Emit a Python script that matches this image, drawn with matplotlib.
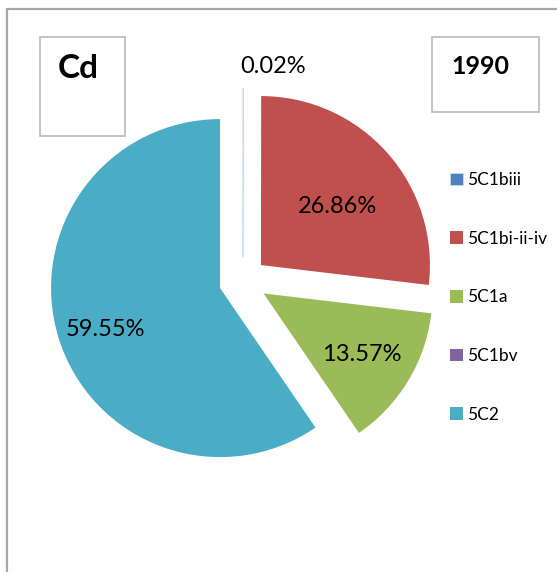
import matplotlib
matplotlib.use("Agg")
import matplotlib.pyplot as plt
from matplotlib.patches import Rectangle
import numpy as np

# Cd emission shares by source category, 1990
categories = ["5C1biii", "5C1bi-ii-iv", "5C1a", "5C1bv", "5C2"]
shares = [0.02, 26.86, 13.57, 0.00, 59.55]
colors = ["#4F81BD", "#C0504D", "#9BBB59", "#8064A2", "#4BACC6"]
element = "Cd"
year = "1990"

plt.rcParams['font.family'] = ['Lato', 'DejaVu Sans']

W, H = 557, 572
fig = plt.figure(figsize=(W / 100, H / 100), dpi=100)


def fx(px):
    return px / W


def fy(py):
    return 1 - py / H


# outer chart frame (runs past the right and bottom edges)
fig.patches.append(Rectangle((fx(7), fy(9) - 2), 2, 2, transform=fig.transFigure,
                             fill=False, edgecolor="#A6A6A6", lw=1.6))

# pie axes
R_px = 169
half = 220
cx, cy = 243, 281
ax = fig.add_axes([fx(cx - half), fy(cy + half), 2 * half / W, 2 * half / H])
wedges, _ = ax.pie(shares, colors=colors, startangle=90, counterclock=False,
                   explode=[0.142] * len(shares), radius=1,
                   wedgeprops=dict(linewidth=0))
# the tiny first wedge is only a hairline
wedges[0].set_edgecolor("#C9DCEF")
wedges[0].set_linewidth(0.6)
lim = half / R_px
ax.set_xlim(-lim, lim)
ax.set_ylim(-lim, lim)
ax.set_aspect('equal')
ax.axis('off')

# percentage labels: radial distance from each wedge apex, plus a small nudge
label_dist = [1.13, 0.58, 0.68, 0.0, 0.71]
label_nudge = [(0.18, 0.0), (0.02, -0.04), (0.0, -0.01), (0.0, 0.0), (0.0, -0.035)]
for w, v, d, (dx, dy) in zip(wedges, shares, label_dist, label_nudge):
    if v <= 0:
        continue
    mid = np.deg2rad((w.theta1 + w.theta2) / 2)
    x0, y0 = w.center
    ax.text(x0 + d * np.cos(mid) + dx, y0 + d * np.sin(mid) + dy, f"{v:.2f}%",
            ha='center', va='center', fontsize=17, color='black')

# legend
fig.legend(wedges, categories, loc='upper left',
           bbox_to_anchor=(fx(450), fy(172)), frameon=False, fontsize=12.5,
           handlelength=0.75, handleheight=0.75, handletextpad=0.25,
           labelspacing=2.46, borderpad=0, borderaxespad=0)

# element and year boxes
box_color = "#BFBFBF"
fig.patches.append(Rectangle((fx(40), fy(136)), 85 / W, 99 / H, transform=fig.transFigure,
                             fill=False, edgecolor=box_color, lw=1.3))
fig.text(fx(78), fy(69), element, ha='center', va='center', fontsize=24,
         fontweight='bold')
fig.patches.append(Rectangle((fx(432), fy(112)), 107 / W, 75 / H, transform=fig.transFigure,
                             fill=False, edgecolor=box_color, lw=1.3))
fig.text(fx(480), fy(66), year, ha='center', va='center', fontsize=18,
         fontweight='bold')

fig.savefig("out.png", dpi=100)
